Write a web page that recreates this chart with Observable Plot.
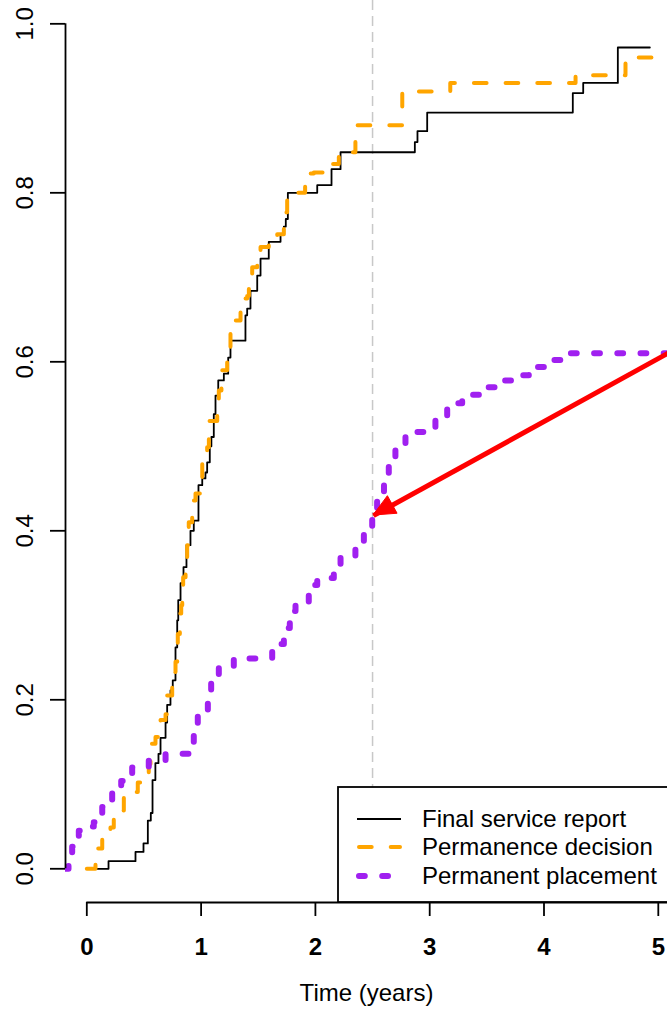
<!DOCTYPE html>
<html><head><meta charset="utf-8">
<script src="https://cdn.jsdelivr.net/npm/d3@7"></script>
<script src="https://cdn.jsdelivr.net/npm/@observablehq/plot@0.6"></script>
<style>
html,body{margin:0;padding:0;background:#fff;overflow:hidden}
svg{display:block;overflow:hidden}
</style>
</head><body><div id="chart"></div>
<script>
// ---- data (time in years, cumulative proportion) ----
const seriesNames = ["Final service report", "Permanence decision", "Permanent placement"];

const finalServiceReport = [
  [0,0],[0.19,0.009],[0.426,0.02],[0.496,0.03],[0.534,0.057],[0.56,0.066],[0.575,0.105],[0.60,0.125],
  [0.627,0.136],[0.645,0.155],[0.689,0.173],[0.703,0.194],[0.732,0.211],[0.752,0.223],[0.776,0.262],
  [0.791,0.294],[0.80,0.318],[0.82,0.338],[0.846,0.357],[0.872,0.383],[0.907,0.40],[0.936,0.412],
  [0.977,0.454],[1.01,0.462],[1.038,0.469],[1.053,0.481],[1.076,0.50],[1.09,0.511],[1.111,0.538],
  [1.126,0.56],[1.15,0.578],[1.199,0.586],[1.237,0.605],[1.257,0.625],[1.388,0.655],[1.403,0.663],
  [1.432,0.684],[1.491,0.702],[1.52,0.722],[1.592,0.742],[1.695,0.751],[1.724,0.76],[1.741,0.769],
  [1.759,0.80],[2.016,0.809],[2.141,0.828],[2.22,0.848],[2.87,0.86],[2.893,0.873],[2.978,0.895],
  [4.252,0.918],[4.343,0.93],[4.646,0.972],[4.926,0.972]
];

const permanenceDecision = [
  [0,0],[0.076,0.01],[0.09,0.024],[0.135,0.035],[0.207,0.049],[0.236,0.059],[0.295,0.069],[0.324,0.085],
  [0.411,0.091],[0.446,0.102],[0.514,0.114],[0.542,0.124],[0.557,0.148],[0.601,0.156],[0.645,0.176],
  [0.689,0.183],[0.703,0.205],[0.747,0.233],[0.776,0.245],[0.791,0.266],[0.796,0.278],[0.814,0.302],
  [0.826,0.312],[0.835,0.325],[0.843,0.345],[0.864,0.369],[0.878,0.383],[0.892,0.41],[0.922,0.436],
  [0.951,0.444],[0.989,0.463],[1.01,0.483],[1.03,0.495],[1.053,0.499],[1.068,0.53],[1.141,0.554],
  [1.155,0.566],[1.178,0.59],[1.228,0.609],[1.257,0.645],[1.286,0.649],[1.345,0.675],[1.403,0.678],
  [1.418,0.698],[1.447,0.712],[1.491,0.728],[1.52,0.736],[1.592,0.75],[1.666,0.751],[1.724,0.771],
  [1.747,0.777],[1.753,0.80],[1.91,0.823],[1.986,0.824],[2.073,0.83],[2.132,0.834],[2.205,0.848],
  [2.35,0.88],[2.76,0.92],[3.18,0.93],[4.276,0.939],[4.713,0.96],[5.1,0.96]
];

const permanentPlacement = [
  [-0.186,0],[-0.16,0.012],[-0.128,0.026],[-0.07,0.045],[-0.02,0.05],[0.061,0.055],[0.1,0.063],
  [0.135,0.073],[0.18,0.08],[0.222,0.089],[0.26,0.097],[0.301,0.104],[0.35,0.112],[0.397,0.12],
  [0.542,0.128],[0.689,0.136],[0.915,0.147],[0.936,0.158],[0.955,0.17],[0.971,0.181],[1.059,0.197],
  [1.088,0.219],[1.12,0.23],[1.155,0.239],[1.286,0.249],[1.622,0.259],[1.68,0.266],[1.724,0.274],
  [1.75,0.285],[1.776,0.295],[1.80,0.305],[1.826,0.316],[1.942,0.327],[1.98,0.336],[2.016,0.344],
  [2.161,0.353],[2.22,0.369],[2.35,0.383],[2.424,0.40],[2.497,0.42],[2.54,0.441],[2.6,0.46],
  [2.642,0.481],[2.70,0.501],[2.788,0.517],[2.963,0.523],[3.05,0.536],[3.153,0.551],[3.284,0.561],
  [3.43,0.57],[3.576,0.578],[3.722,0.584],[3.867,0.594],[4.013,0.602],[4.144,0.61],[5.1,0.61]
];

const xTicks = [0, 1, 2, 3, 4, 5];
const yTicks = [0, 0.2, 0.4, 0.6, 0.8, 1.0];
const referenceTime = 2.5;
const arrowFrom = [5.25, 0.6225];
const arrowTo = [2.508, 0.418];
const xLabel = "Time (years)";

// ---- chart ----
const xDomain = [-0.1864, 5.0805];
const yDomain = [-0.0399, 1.0276];
const toRows = (arr) => arr.map(([t, v]) => ({t, v}));
const FONT = "'Liberation Sans', Arial, Helvetica, sans-serif";
const black = "#000", orange = "#FFA500", purple = "#A020F0";

const styles = [
  {stroke: black, strokeWidth: 1.8},
  {stroke: orange, strokeWidth: 4, strokeDasharray: "12.7,19", strokeLinecap: "round"},
  {stroke: purple, strokeWidth: 6, strokeDasharray: "5.8,17.4", strokeLinecap: "round"}
];
const seriesData = [finalServiceReport, permanenceDecision, permanentPlacement];

const svg = Plot.plot({
  width: 667, height: 1015,
  marginLeft: 65, marginRight: 0, marginTop: 0, marginBottom: 113,
  x: {domain: xDomain},
  y: {domain: yDomain},
  style: {fontFamily: FONT, fontSize: "24px", background: "white", color: "black"},
  marks: [
    Plot.ruleX([referenceTime], {stroke: "#c8c8c8", strokeWidth: 1.5, strokeDasharray: "10,6"}),
    ...seriesData.map((d, i) => Plot.line(toRows(d), {x: "t", y: "v", curve: "step-after", clip: true, ...styles[i]})),
    Plot.link([{x1: arrowFrom[0], y1: arrowFrom[1], x2: arrowTo[0], y2: arrowTo[1]}],
      {x1: "x1", y1: "y1", x2: "x2", y2: "y2", stroke: "red", strokeWidth: 5, clip: true}),
    Plot.ruleX([xDomain[0]], {y1: yTicks[0], y2: yTicks[yTicks.length - 1], strokeWidth: 1.8}),
    Plot.ruleY([yDomain[0]], {x1: xTicks[0], x2: xDomain[1], strokeWidth: 1.8}),
    Plot.axisX({ticks: xTicks, tickSize: 14, tickPadding: 21, tickFormat: d3.format("d"), fontWeight: "bold", strokeWidth: 1.8, label: null}),
    Plot.axisY({ticks: yTicks, tickSize: 15, tickRotate: -90, tickPadding: 18, tickFormat: d3.format(".1f"), strokeWidth: 1.8, label: null}),
    Plot.text([xLabel], {frameAnchor: "bottom", dy: 98, fontSize: 24})
  ]
});

// ---- filled arrow head placed through the plot's own scales ----
const sx = svg.scale("x"), sy = svg.scale("y");
const fx = sx.apply(arrowFrom[0]), fy = sy.apply(arrowFrom[1]);
const tx = sx.apply(arrowTo[0]), ty = sy.apply(arrowTo[1]);
const len = Math.hypot(fx - tx, fy - ty);
const ux = (fx - tx) / len, uy = (fy - ty) / len;
const hl = 22, hw = 10;
const bx = tx + ux * hl, by = ty + uy * hl;
d3.select(svg).append("polygon")
  .attr("points", [[tx, ty], [bx - uy * hw, by + ux * hw], [bx + uy * hw, by - ux * hw]].map(p => p.join(",")).join(" "))
  .attr("fill", "red").attr("stroke", "red").attr("stroke-width", 1).attr("stroke-linejoin", "miter");

// ---- legend (box at lower right, as in the original) ----
const lg = d3.select(svg).append("g").attr("font-family", FONT).attr("font-size", 24).attr("text-anchor", "start");
lg.append("rect").attr("x", 338).attr("y", 787).attr("width", 340).attr("height", 115)
  .attr("fill", "white").attr("stroke", "black").attr("stroke-width", 1.8);
const rowY = [819, 847, 876];
seriesNames.forEach((name, i) => {
  const s = styles[i];
  lg.append("line").attr("x1", i === 0 ? 357 : 359).attr("x2", i === 0 ? 401 : 400)
    .attr("y1", rowY[i]).attr("y2", rowY[i])
    .attr("stroke", s.stroke).attr("stroke-width", s.strokeWidth)
    .attr("stroke-dasharray", s.strokeDasharray || null)
    .attr("stroke-linecap", s.strokeLinecap || "butt");
  lg.append("text").attr("x", 422).attr("y", rowY[i]).attr("dy", "0.35em")
    .attr("text-anchor", "start").attr("fill", "black").text(name);
});

document.getElementById("chart").appendChild(svg);
</script>
</body></html>
